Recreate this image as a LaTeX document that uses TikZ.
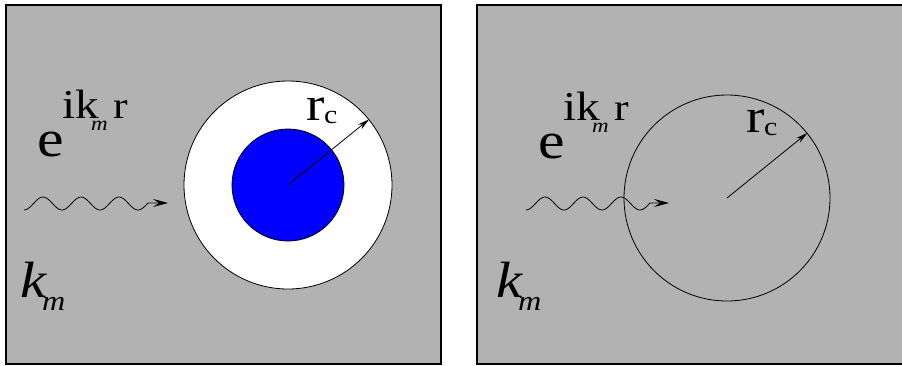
\documentclass[tikz,border=0pt]{standalone}
\usepackage{fontspec}
\setmainfont[FakeStretch=1.15]{Liberation Serif}
\usetikzlibrary{arrows.meta}
\tikzset{
  panel/.style={fill=black!30, draw=black, line width=1.3pt},
  lbl/.style={inner sep=0pt, anchor=base west},
  rad/.style={line width=0.8pt, -{Stealth[length=12pt,width=6pt,inset=4pt]}},
  wave/.style={line width=0.8pt, -{Stealth[length=15pt,width=8pt,inset=6pt]}},
  ring/.style={circle, inner sep=0pt, draw=black, line width=0.8pt}
}
\newcommand{\fs}[1]{\fontsize{#1}{#1}\selectfont}
\begin{document}
\begin{tikzpicture}[x=1pt,y=-1pt]
\useasboundingbox (0,0) rectangle (902,365);
% panels
\draw[panel] (6,5) rectangle (441,364);
\draw[panel] (477,5) rectangle (912,364);
% left panel circles
\node[ring, fill=white, minimum size=208pt] (outerL) at (288,185) {};
\node[ring, fill=blue, minimum size=112pt] (innerL) at (288,185) {};
\coordinate (cL) at (288,185);
\draw[rad] (cL) -- (outerL.39.5);
% right panel circle
\node[ring, minimum size=206pt] (circR) at (727,198) {};
\coordinate (cR) at (727,198);
\draw[rad] (cR) -- (circR.39.5);
% waves
\coordinate (tipL) at (168,203);
\coordinate (tipR) at (669,203);
\draw[wave]
  plot[domain=0:124, samples=80, smooth] ({24+\x}, {203.5+6.5*cos(9.47368*\x)}) -- (tipL);
\draw[wave]
  plot[domain=0:124, samples=80, smooth] ({526+\x}, {203.5+6.5*cos(9.47368*\x)}) -- (tipR);
% left labels
\node[lbl] (eL) at (37,156) {\fs{52}e};
\node[lbl] (ikL) at (62,118) {\fs{41}ik};
\node[lbl] (mL) at (91,130) {\fs{20}\itshape m};
\node[lbl] (rL) at (113,118) {\fs{38}r};
\node[lbl] (kL) at (20,297) {\fs{51}\itshape k};
\node[lbl] (kmL) at (42,310) {\fs{28}\itshape m};
\node[lbl] (rcL) at (306,120) {\fs{48}r};
\node[lbl] (rccL) at (324,123) {\fs{26}c};
% right labels
\node[lbl] (eR) at (538,158) {\fs{52}e};
\node[lbl] (ikR) at (563,120) {\fs{41}ik};
\node[lbl] (mR) at (592,132) {\fs{20}\itshape m};
\node[lbl] (rR) at (614,120) {\fs{38}r};
\node[lbl] (kR) at (496,297) {\fs{51}\itshape k};
\node[lbl] (kmR) at (518,310) {\fs{28}\itshape m};
\node[lbl] (rcR) at (746,132) {\fs{48}r};
\node[lbl] (rccR) at (764,135) {\fs{26}c};
\end{tikzpicture}
\end{document}
